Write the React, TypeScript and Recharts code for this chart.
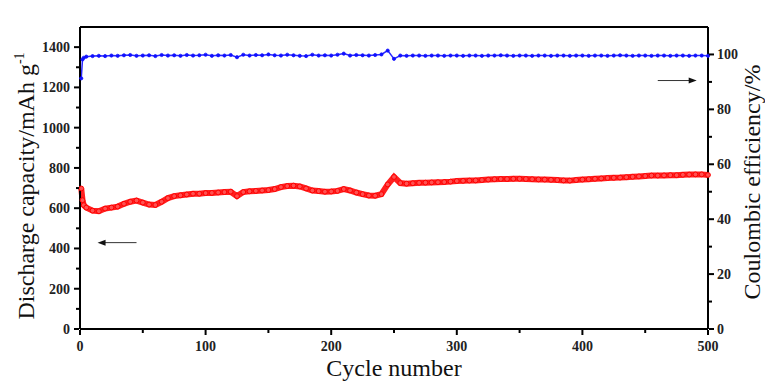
import { ComposedChart, Line, XAxis, YAxis, ReferenceLine } from 'recharts';

const FONT = '"Liberation Serif", "Times New Roman", serif';

const cycles = [
  1, 2, 3, 5, 10, 15, 20, 25, 30, 35, 40, 45, 50, 55, 60, 65, 70, 75, 80, 85, 90, 95, 100,
  105, 110, 115, 120, 125, 130, 135, 140, 145, 150, 155, 160, 165, 170, 175, 180, 185, 190, 195, 200,
  205, 210, 215, 220, 225, 230, 235, 240, 245, 250, 255, 260, 265, 270, 275, 280, 285, 290, 295, 300,
  305, 310, 315, 320, 325, 330, 335, 340, 345, 350, 355, 360, 365, 370, 375, 380, 385, 390, 395, 400,
  405, 410, 415, 420, 425, 430, 435, 440, 445, 450, 455, 460, 465, 470, 475, 480, 485, 490, 495, 500,
];

// discharge capacity, mAh/g
const capacity = [
  698, 640, 615, 603, 588, 585, 598, 603, 608, 622, 632, 638, 628, 618, 616, 632, 650, 660, 664, 668, 672, 672, 675,
  676, 678, 680, 682, 660, 680, 684, 686, 688, 690, 695, 705, 710, 712, 708, 698, 688, 685, 682, 683,
  686, 695, 688, 678, 670, 663, 662, 670, 718, 755, 725, 722, 724, 726, 727, 728, 729, 730, 732, 735,
  736, 737, 738, 740, 742, 744, 745, 745, 746, 746, 745, 744, 743, 742, 741, 740, 738, 737, 740, 742,
  744, 746, 748, 750, 751, 752, 754, 756, 758, 760, 762, 762, 763, 764, 764, 766, 767, 768, 768, 765,
];

// coulombic efficiency, %
const efficiency = [
  91.3, 98.2, 98.8, 99.2, 99.4, 99.5, 99.4, 99.6, 99.5, 99.7, 99.8, 99.5, 99.6, 99.7, 99.4, 99.8, 99.6, 99.7, 99.5, 99.8, 99.6, 99.7, 99.9,
  99.5, 99.7, 99.6, 99.8, 99.0, 99.9, 99.6, 99.8, 99.7, 100.0, 99.7, 99.6, 99.9, 99.7, 99.5, 99.4, 99.9, 99.6, 99.7, 99.6,
  99.9, 100.3, 99.6, 99.8, 99.7, 99.6, 99.8, 100.0, 101.4, 98.4, 99.6, 99.5, 99.6, 99.6, 99.5, 99.6, 99.6, 99.5, 99.6, 99.6,
  99.5, 99.6, 99.6, 99.5, 99.6, 99.6, 99.7, 99.6, 99.5, 99.6, 99.6, 99.5, 99.6, 99.6, 99.5, 99.6, 99.6, 99.5, 99.6, 99.6,
  99.5, 99.6, 99.6, 99.5, 99.6, 99.7, 99.6, 99.5, 99.6, 99.6, 99.5, 99.6, 99.6, 99.5, 99.6, 99.6, 99.5, 99.6, 99.6, 99.5,
];

const xTicks = [0, 50, 100, 150, 200, 250, 300, 350, 400, 450, 500];
const leftTicks = [0, 100, 200, 300, 400, 500, 600, 700, 800, 900, 1000, 1100, 1200, 1300, 1400];
const rightTicks = [0, 10, 20, 30, 40, 50, 60, 70, 80, 90, 100];

const data = cycles.map((cycle, i) => ({ cycle, capacity: capacity[i], efficiency: efficiency[i] }));

const tickText = { fontFamily: FONT, fontWeight: 700, fontSize: 14, fill: '#222' };

// tick props: text position = axis +/- (tickSize + tickMargin) = 7px
function BottomTick({ x, y, payload }: any) {
  const major = payload.value % 100 === 0;
  const ay = y - 7;
  return (
    <g>
      <line x1={x} x2={x} y1={ay} y2={ay + (major ? 5 : 3)} stroke="#000" strokeWidth={2} />
      {major && (
        <text x={x} y={ay + 21} textAnchor="middle" style={tickText}>
          {payload.value}
        </text>
      )}
    </g>
  );
}

function LeftTick({ x, y, payload }: any) {
  const major = payload.value % 200 === 0;
  const ax = x + 7;
  return (
    <g>
      <line x1={ax - (major ? 5 : 3)} x2={ax} y1={y} y2={y} stroke="#000" strokeWidth={2} />
      {major && (
        <text x={ax - 9} y={y + 5} textAnchor="end" style={tickText}>
          {payload.value}
        </text>
      )}
    </g>
  );
}

function RightTick({ x, y, payload }: any) {
  const major = payload.value % 20 === 0;
  const ax = x - 7;
  return (
    <g>
      <line x1={ax} x2={ax + (major ? 5 : 3)} y1={y} y2={y} stroke="#000" strokeWidth={2} />
      {major && (
        <text x={ax + 8} y={y + 5} textAnchor="start" style={tickText}>
          {payload.value}
        </text>
      )}
    </g>
  );
}

function Arrow({ x1, y1, x2, y2 }: any) {
  const dir = Math.sign(x2 - x1);
  return (
    <g>
      <line x1={x1} y1={y1} x2={x2 - dir * 6} y2={y2} stroke="#333" strokeWidth={1} />
      <polygon points={`${x2},${y2} ${x2 - dir * 8},${y2 - 3} ${x2 - dir * 8},${y2 + 3}`} fill="#111" />
    </g>
  );
}

const titleStyle = { fontFamily: FONT, fontSize: 24, fill: '#111' };

export default function App() {
  return (
    <div style={{ position: 'absolute', left: 0, top: 0, background: '#fff' }}>
      <ComposedChart width={765} height={387} data={data} margin={{ top: 27, right: 0, bottom: 0, left: 0 }}>
        <XAxis
          dataKey="cycle"
          type="number"
          domain={[0, 500]}
          ticks={xTicks}
          interval={0}
          height={58}
          axisLine={{ stroke: '#000', strokeWidth: 2 }}
          tickLine={false}
          tick={<BottomTick />}
          label={{
            content: ({ viewBox }: any) => (
              <text x={viewBox.x + viewBox.width / 2} y={viewBox.y + 47} textAnchor="middle" style={titleStyle}>
                Cycle number
              </text>
            ),
          }}
        />
        <YAxis
          yAxisId="left"
          domain={[0, 1500]}
          ticks={leftTicks}
          interval={0}
          width={80}
          axisLine={{ stroke: '#000', strokeWidth: 2 }}
          tickLine={false}
          tick={<LeftTick />}
          label={{
            content: () => (
              <text transform="translate(34,186) rotate(-90)" textAnchor="middle" style={titleStyle}>
                Discharge capacity/mAh g
                <tspan dy={-10} fontSize={14}>-1</tspan>
              </text>
            ),
          }}
        />
        <YAxis
          yAxisId="right"
          orientation="right"
          domain={[0, 110]}
          ticks={rightTicks}
          interval={0}
          width={57}
          axisLine={{ stroke: '#000', strokeWidth: 2 }}
          tickLine={false}
          tick={<RightTick />}
          label={{
            content: () => (
              <text transform="translate(760,182) rotate(-90)" textAnchor="middle" style={titleStyle}>
                Coulombic efficiency/%
              </text>
            ),
          }}
        />
        <ReferenceLine yAxisId="left" y={1500} stroke="#000" strokeWidth={2} />
        <ReferenceLine
          yAxisId="left"
          segment={[{ x: 45, y: 429 }, { x: 14, y: 429 }]}
          shape={(p: any) => <Arrow {...p} />}
        />
        <ReferenceLine
          yAxisId="right"
          segment={[{ x: 460, y: 90.5 }, { x: 491, y: 90.5 }]}
          shape={(p: any) => <Arrow {...p} />}
        />
        <Line
          yAxisId="left"
          dataKey="capacity"
          stroke="#ff2020"
          strokeWidth={6}
          dot={{ r: 2.4, stroke: '#ff0000', strokeWidth: 1, fill: '#ff5050' }}
          isAnimationActive={false}
        />
        <Line
          yAxisId="right"
          dataKey="efficiency"
          stroke="#2a2aff"
          strokeWidth={1.5}
          dot={{ r: 1.6, stroke: '#1010ff', strokeWidth: 0.8, fill: '#1010ff' }}
          isAnimationActive={false}
        />
      </ComposedChart>
    </div>
  );
}
